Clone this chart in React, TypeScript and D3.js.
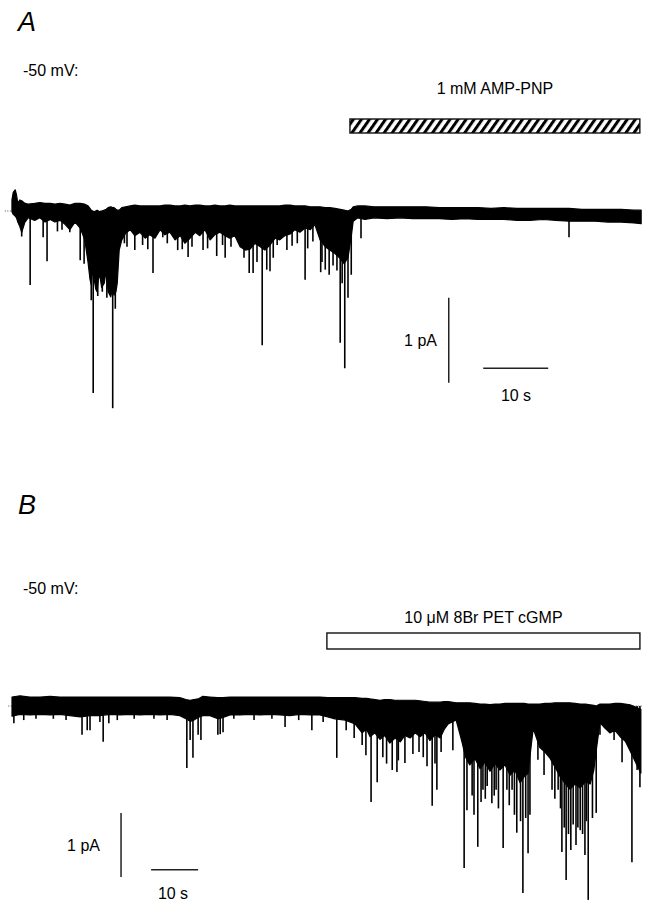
import React, { useRef, useEffect } from 'react';
import * as d3 from 'd3';

// single-channel recordings, cell-attached, -50 mV
// band = [time (s), upper edge (pA), lower edge (pA)] of the dense trace
// events = [time (s), peak current (pA)] of the brief openings sticking out of it

const bandA: [number, number, number][] = [
  [0.3, 0.13, -0.01], [0.5, 0.22, -0.04], [0.8, 0.25, -0.06], [1.0, 0.19, -0.08], [1.2, 0.09, -0.13],
  [1.5, 0.13, -0.18], [1.8, 0.12, -0.25], [2.3, 0.09, -0.13], [2.8, 0.08, -0.08], [3.8, 0.09, -0.11],
  [4.6, 0.1, -0.08], [5.4, 0.09, -0.13], [6.2, 0.09, -0.1], [6.9, 0.08, -0.13], [7.7, 0.09, -0.11],
  [8.5, 0.08, -0.16], [9.2, 0.07, -0.22], [10.0, 0.09, -0.13], [10.8, 0.09, -0.2], [11.5, 0.08, -0.34],
  [12.0, 0.06, -0.6], [12.3, 0.03, -0.8], [12.5, 0.01, -0.87], [12.7, 0.0, -0.7], [12.9, -0.01, -0.78],
  [13.2, 0.0, -0.92], [13.4, 0.01, -0.95], [13.6, 0.0, -0.8], [13.8, -0.01, -0.75], [14.1, 0.0, -0.9],
  [14.5, 0.01, -0.85], [14.8, 0.02, -0.7], [15.1, 0.04, -0.95], [15.5, 0.05, -1.01], [15.8, 0.04, -0.9],
  [16.0, 0.04, -0.99], [16.3, 0.02, -0.95], [16.5, 0.01, -0.85], [16.8, 0.01, -0.46], [17.2, 0.04, -0.34],
  [17.8, 0.05, -0.26], [18.5, 0.06, -0.22], [19.2, 0.07, -0.29], [20.0, 0.06, -0.25], [20.8, 0.06, -0.32],
  [21.5, 0.06, -0.28], [22.3, 0.06, -0.32], [23.1, 0.06, -0.22], [23.8, 0.07, -0.28], [24.6, 0.07, -0.25],
  [25.4, 0.06, -0.34], [26.2, 0.06, -0.29], [26.9, 0.07, -0.38], [27.7, 0.06, -0.32], [28.5, 0.07, -0.25],
  [29.2, 0.07, -0.29], [30.0, 0.06, -0.22], [30.8, 0.06, -0.34], [31.5, 0.07, -0.28], [32.3, 0.06, -0.25],
  [33.1, 0.06, -0.29], [33.8, 0.07, -0.32], [34.6, 0.06, -0.29], [35.4, 0.06, -0.42], [36.2, 0.06, -0.46],
  [36.9, 0.06, -0.45], [37.7, 0.06, -0.38], [38.5, 0.06, -0.42], [39.2, 0.06, -0.46], [40.0, 0.06, -0.4],
  [40.8, 0.06, -0.32], [41.5, 0.06, -0.34], [42.3, 0.07, -0.29], [43.1, 0.07, -0.27], [43.8, 0.06, -0.22],
  [44.6, 0.06, -0.25], [45.4, 0.06, -0.2], [46.2, 0.05, -0.22], [46.9, 0.05, -0.16], [47.7, 0.05, -0.34],
  [48.5, 0.04, -0.42], [49.2, 0.04, -0.46], [50.0, 0.03, -0.5], [50.8, 0.02, -0.56], [51.4, 0.01, -0.62],
  [52.0, 0.0, -0.55], [52.5, 0.02, -0.3], [52.8, 0.05, -0.12], [53.5, 0.06, -0.08], [54.6, 0.06, -0.1],
  [56.0, 0.05, -0.08], [58.0, 0.05, -0.09], [60.0, 0.05, -0.08], [62.0, 0.05, -0.09], [64.0, 0.05, -0.09],
  [66.0, 0.04, -0.09], [68.0, 0.04, -0.1], [70.0, 0.04, -0.09], [72.0, 0.04, -0.1], [74.0, 0.03, -0.1],
  [76.0, 0.04, -0.1], [78.0, 0.03, -0.11], [80.0, 0.03, -0.11], [82.0, 0.03, -0.1], [84.0, 0.03, -0.11],
  [86.0, 0.03, -0.12], [88.0, 0.02, -0.12], [90.0, 0.02, -0.12], [92.0, 0.02, -0.13], [94.0, 0.02, -0.13],
  [96.0, 0.01, -0.14], [97.1, 0.01, -0.15],
];

const eventsA: [number, number][] = [
  [1.8, -0.3], [3.1, -0.87], [5.1, -0.31], [5.7, -0.59], [7.3, -0.24], [8.0, -0.22], [9.2, -0.25],
  [10.8, -0.58], [11.4, -0.62], [12.5, -1.05], [12.8, -2.14], [13.5, -1.0], [14.2, -0.95], [14.9, -1.02],
  [15.8, -2.32], [16.2, -1.15], [17.6, -0.38], [18.0, -0.42], [19.2, -0.46], [20.4, -0.4], [21.2, -0.45],
  [22.0, -0.73], [23.5, -0.31], [24.2, -0.38], [25.8, -0.46], [26.5, -0.45], [27.4, -0.54], [28.0, -0.42],
  [29.7, -0.46], [30.4, -0.44], [31.8, -0.53], [32.7, -0.4], [33.1, -0.55], [34.0, -0.42], [35.4, -0.41],
  [36.0, -0.55], [36.8, -0.73], [37.4, -0.73], [38.0, -0.6], [38.8, -1.58], [39.5, -0.69], [40.0, -0.71],
  [40.5, -0.55], [41.1, -0.4], [42.6, -0.46], [43.4, -0.41], [44.2, -0.38], [45.4, -0.81], [45.8, -0.44],
  [46.6, -0.36], [47.8, -0.72], [48.0, -0.6], [48.5, -0.69], [49.1, -0.75], [49.7, -0.64], [50.3, -0.7],
  [50.8, -1.55], [51.1, -0.85], [51.5, -1.85], [52.0, -1.02], [52.5, -0.75], [54.0, -0.32], [86.0, -0.31],
];

const bandB: [number, number, number][] = [
  [0.0, 0.14, -0.16], [1.7, 0.16, -0.13], [3.8, 0.14, -0.14], [6.0, 0.14, -0.13], [8.1, 0.15, -0.14],
  [10.2, 0.14, -0.13], [12.3, 0.14, -0.15], [14.5, 0.14, -0.17], [16.6, 0.14, -0.15], [18.7, 0.14, -0.15],
  [20.9, 0.14, -0.13], [23.0, 0.14, -0.14], [25.1, 0.14, -0.13], [27.2, 0.14, -0.14], [29.4, 0.14, -0.13],
  [31.5, 0.14, -0.14], [33.6, 0.14, -0.13], [35.7, 0.13, -0.15], [37.0, 0.1, -0.2], [37.9, 0.09, -0.24],
  [38.7, 0.1, -0.22], [39.6, 0.11, -0.18], [40.6, 0.15, -0.15], [42.1, 0.14, -0.15], [43.8, 0.13, -0.2],
  [44.9, 0.13, -0.18], [46.4, 0.14, -0.14], [48.5, 0.14, -0.14], [50.6, 0.14, -0.13], [52.8, 0.14, -0.14],
  [54.9, 0.14, -0.13], [57.0, 0.14, -0.14], [59.1, 0.14, -0.15], [61.3, 0.14, -0.13], [63.4, 0.14, -0.14],
  [65.5, 0.14, -0.14], [67.2, 0.13, -0.17], [68.7, 0.13, -0.2], [70.9, 0.13, -0.22], [73.0, 0.13, -0.28],
  [74.5, 0.12, -0.42], [75.4, 0.12, -0.36], [76.2, 0.11, -0.48], [77.2, 0.1, -0.42], [78.3, 0.09, -0.52],
  [79.3, 0.1, -0.46], [80.4, 0.1, -0.58], [81.5, 0.09, -0.5], [82.6, 0.09, -0.56], [83.6, 0.09, -0.46],
  [84.7, 0.09, -0.5], [85.8, 0.09, -0.42], [86.8, 0.08, -0.48], [87.9, 0.07, -0.42], [88.9, 0.06, -0.54],
  [90.0, 0.06, -0.45], [91.1, 0.06, -0.5], [92.0, 0.07, -0.36], [92.8, 0.07, -0.28], [94.5, 0.05, -0.22],
  [95.7, 0.05, -0.55], [96.5, 0.05, -0.8], [97.4, 0.05, -0.92], [98.5, 0.04, -0.82], [99.6, 0.03, -0.98],
  [100.6, 0.03, -0.88], [101.7, 0.02, -1.02], [102.8, 0.03, -0.9], [103.8, 0.03, -1.0], [104.9, 0.04, -0.92],
  [106.0, 0.04, -1.08], [107.0, 0.04, -1.0], [108.1, 0.04, -1.2], [109.0, 0.04, -1.1], [109.8, 0.03, -1.05],
  [110.5, 0.03, -0.6], [110.9, 0.03, -0.35], [111.6, 0.03, -0.5], [112.3, 0.03, -0.65], [113.4, 0.04, -0.72],
  [114.5, 0.04, -0.82], [115.5, 0.05, -0.95], [116.6, 0.05, -1.1], [117.6, 0.05, -1.2], [118.7, 0.05, -1.3],
  [119.8, 0.04, -1.22], [120.9, 0.03, -1.28], [122.0, 0.03, -1.18], [123.0, 0.02, -1.22], [123.8, 0.01, -1.0],
  [124.3, 0.0, -0.7], [125.1, 0.03, -0.26], [126.1, 0.03, -0.34], [127.2, 0.03, -0.42], [128.3, 0.04, -0.38],
  [129.4, 0.04, -0.48], [130.5, 0.03, -0.55], [131.5, 0.02, -0.7], [132.8, -0.02, -0.9], [133.8, -0.05, -1.05],
];

const eventsB: [number, number][] = [
  [0.4, -0.27], [2.5, -0.22], [5.1, -0.2], [8.8, -0.2], [11.5, -0.22], [14.9, -0.45], [16.0, -0.38],
  [16.6, -0.38], [18.7, -0.25], [19.4, -0.56], [20.6, -0.27], [22.4, -0.22], [26.0, -0.2], [30.2, -0.2],
  [33.0, -0.22], [37.2, -0.97], [37.9, -0.53], [38.5, -0.81], [39.6, -0.45], [40.2, -0.53], [43.8, -0.45],
  [44.3, -0.44], [44.9, -0.41], [47.2, -0.2], [51.5, -0.22], [55.3, -0.2], [58.1, -0.33], [61.0, -0.22],
  [63.8, -0.38], [66.2, -0.25], [69.1, -0.81], [71.1, -0.38], [72.8, -0.5], [74.5, -0.61], [75.3, -0.77],
  [76.4, -1.5], [77.7, -1.19], [78.9, -0.8], [79.7, -0.9], [80.9, -1.0], [81.9, -1.03], [82.2, -0.85],
  [83.6, -0.89], [85.3, -0.75], [86.6, -0.72], [87.5, -0.8], [88.3, -0.94], [89.4, -1.56], [90.0, -0.9],
  [90.4, -1.31], [91.3, -0.72], [93.8, -0.69], [96.2, -2.53], [96.8, -1.63], [97.9, -1.4], [98.3, -1.7],
  [99.1, -2.2], [99.8, -1.5], [100.2, -1.31], [100.7, -1.45], [101.1, -1.25], [102.1, -1.52], [102.6, -1.4],
  [103.0, -1.31], [103.5, -1.6], [104.5, -2.22], [105.3, -1.31], [105.8, -1.55], [106.4, -1.31], [106.9, -1.7],
  [107.4, -1.98], [108.2, -1.8], [108.7, -2.92], [109.3, -1.75], [109.8, -2.3], [110.2, -1.7], [111.9, -0.84],
  [113.2, -1.08], [114.9, -1.31], [115.5, -1.45], [116.2, -1.31], [116.7, -1.6], [117.0, -2.28], [117.5, -1.9],
  [117.9, -2.72], [118.4, -2.0], [118.9, -2.25], [119.4, -1.85], [120.0, -2.17], [120.4, -1.9], [120.9, -1.94],
  [121.4, -2.0], [121.9, -2.33], [122.2, -1.8], [122.6, -3.03], [123.5, -1.75], [124.3, -1.67], [125.1, -0.45],
  [128.1, -0.53], [129.8, -0.88], [131.9, -2.44], [133.0, -1.0], [133.6, -1.27],
];

const panelLetters = ['A', 'B'];
const holdingLabels = ['-50 mV:', '-50 mV:'];
const drugLabels = ['1 mM AMP-PNP', '10 \u03bcM 8Br PET cGMP'];
const drugWindows: [number, number][] = [[52.3, 96.9], [67.0, 133.6]]; // s
const scaleTime = 10; // s
const scaleCurrent = 1; // pA

const App = () => {
  const svgRef = useRef<SVGSVGElement>(null);

  useEffect(() => {
    if (!svgRef.current) return;
    const svg = d3.select(svgRef.current);
    svg.selectAll('*').remove();

    const width = 650;
    const height = 902;
    svg.attr('width', width).attr('height', height);

    const font = '"Liberation Sans", Arial, sans-serif';

    // hatching for the AMP-PNP bar
    svg.append('defs')
      .append('pattern')
      .attr('id', 'hatch')
      .attr('patternUnits', 'userSpaceOnUse')
      .attr('width', 6.6)
      .attr('height', 6.6)
      .attr('patternTransform', 'rotate(35)')
      .append('rect')
      .attr('width', 3)
      .attr('height', 6.6)
      .attr('fill', '#000');

    const panels = [
      {
        band: bandA, events: eventsA, tMax: 97, x0: 10, x1: 640.5, y0: 211, pxPerPA: 85,
        labelY: [31, 76], drugY: 94, barY: [119, 133], hatched: true,
        vBar: { t: 67.5, i: -1.02 }, hBar: { t: 72.8, i: -1.85 },
        pAText: [437, 346], sText: [516, 401],
      },
      {
        band: bandB, events: eventsB, tMax: 134, x0: 12, x1: 641.8, y0: 706, pxPerPA: 64,
        labelY: [514, 594], drugY: 623, barY: [633, 649], hatched: false,
        vBar: { t: 23.2, i: -1.67 }, hBar: { t: 29.6, i: -2.56 },
        pAText: [100, 851], sText: [173, 899],
      },
    ];

    panels.forEach((p, k) => {
      const x = d3.scaleLinear().domain([0, p.tMax]).range([p.x0, p.x1]);
      const y = d3.scaleLinear().domain([0, -1]).range([p.y0, p.y0 + p.pxPerPA]);
      const g = svg.append('g');

      // panel letter and holding potential
      g.append('text')
        .attr('x', 18).attr('y', p.labelY[0])
        .style('font-family', font).style('font-size', '27px').style('font-style', 'italic')
        .text(panelLetters[k]);
      g.append('text')
        .attr('x', 23).attr('y', p.labelY[1])
        .style('font-family', font).style('font-size', '16px')
        .text(holdingLabels[k]);

      // drug application bar
      const [ta, tb] = drugWindows[k];
      g.append('text')
        .attr('x', (x(ta) + x(tb)) / 2).attr('y', p.drugY)
        .attr('text-anchor', 'middle')
        .style('font-family', font).style('font-size', '16px')
        .text(drugLabels[k]);
      g.append('rect')
        .attr('x', x(ta)).attr('y', p.barY[0])
        .attr('width', x(tb) - x(ta)).attr('height', p.barY[1] - p.barY[0])
        .attr('fill', p.hatched ? 'url(#hatch)' : '#fff')
        .attr('stroke', '#111').attr('stroke-width', 1.4);

      // closed level
      g.append('line')
        .attr('x1', x(-0.8)).attr('x2', x(p.tMax))
        .attr('y1', y(0)).attr('y2', y(0))
        .attr('stroke', '#555').attr('stroke-width', 1).attr('stroke-dasharray', '1,1.5');

      // trace
      const area = d3.area<[number, number, number]>()
        .x(d => x(d[0]))
        .y0(d => y(d[1]))
        .y1(d => y(d[2]));
      g.append('path')
        .attr('d', area(p.band))
        .attr('fill', '#000').attr('stroke', '#000').attr('stroke-width', 1.2)
        .attr('stroke-linejoin', 'round');

      g.selectAll('.ev')
        .data(p.events)
        .enter()
        .append('line')
        .attr('x1', d => x(d[0])).attr('x2', d => x(d[0]))
        .attr('y1', y(0)).attr('y2', d => y(d[1]))
        .attr('stroke', '#000').attr('stroke-width', 1.6);

      // scale bars
      g.append('line')
        .attr('x1', x(p.vBar.t)).attr('x2', x(p.vBar.t))
        .attr('y1', y(p.vBar.i)).attr('y2', y(p.vBar.i - scaleCurrent))
        .attr('stroke', '#222').attr('stroke-width', 1.5);
      g.append('line')
        .attr('x1', x(p.hBar.t)).attr('x2', x(p.hBar.t + scaleTime))
        .attr('y1', y(p.hBar.i)).attr('y2', y(p.hBar.i))
        .attr('stroke', '#222').attr('stroke-width', 1.5);
      g.append('text')
        .attr('x', p.pAText[0]).attr('y', p.pAText[1])
        .attr('text-anchor', 'end')
        .style('font-family', font).style('font-size', '16px')
        .text(`${scaleCurrent} pA`);
      g.append('text')
        .attr('x', p.sText[0]).attr('y', p.sText[1])
        .attr('text-anchor', 'middle')
        .style('font-family', font).style('font-size', '16px')
        .text(`${scaleTime} s`);
    });
  }, []);

  return (
    <svg ref={svgRef} style={{ position: 'absolute', left: 0, top: 0, background: '#fff' }}></svg>
  );
};

export default App;
